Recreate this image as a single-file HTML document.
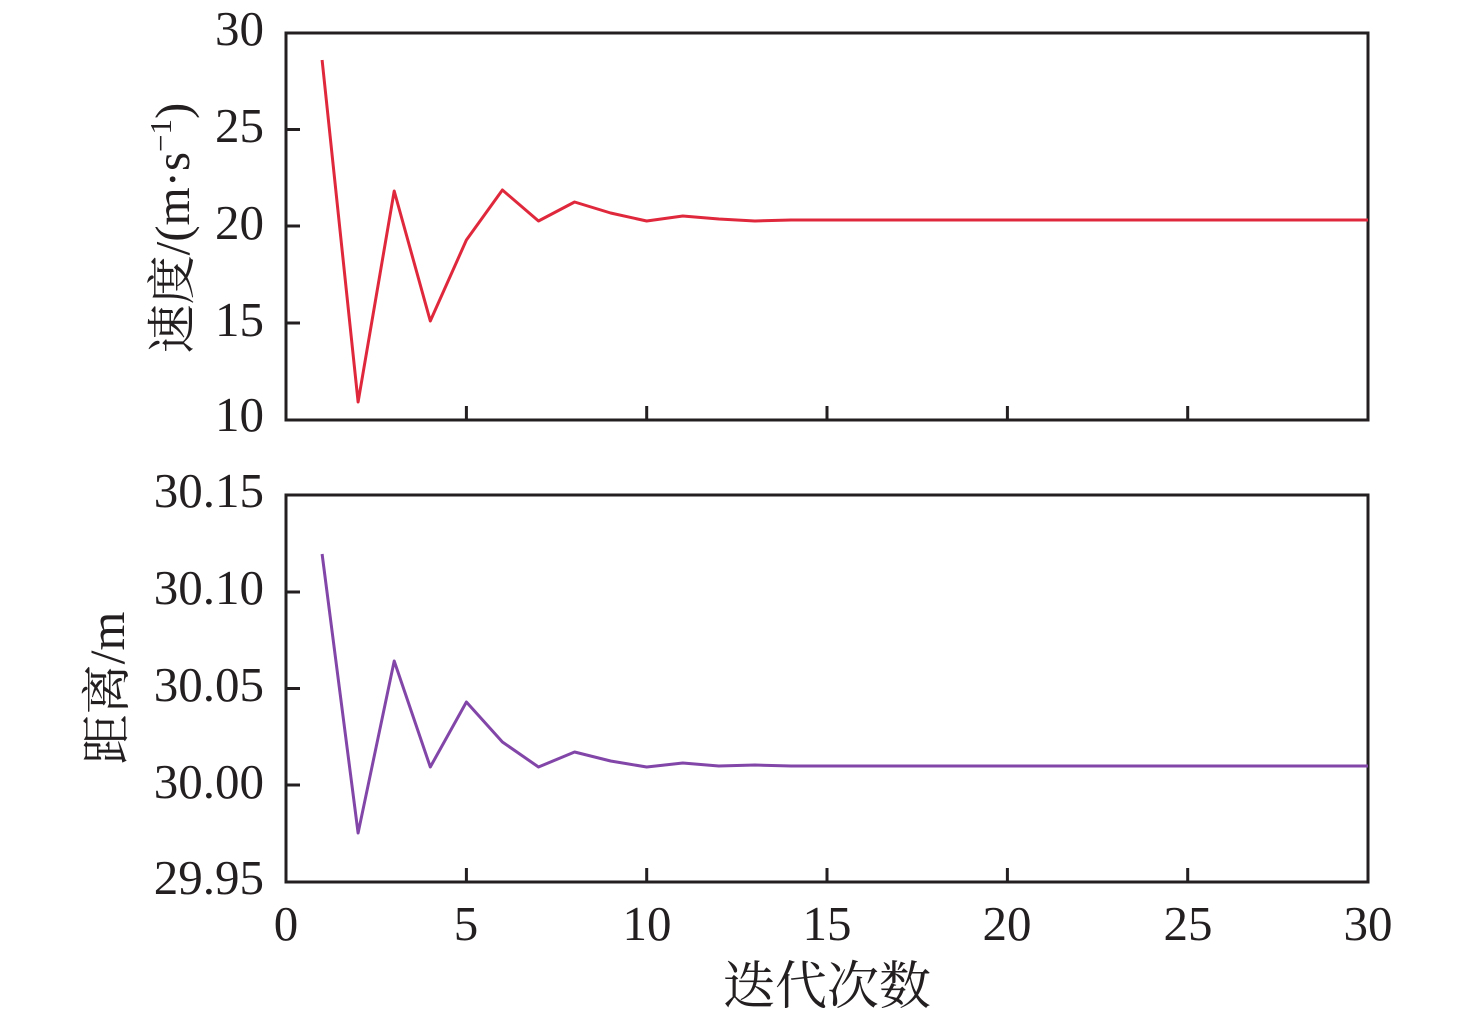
<!DOCTYPE html>
<html><head><meta charset="utf-8"><style>body{margin:0;background:#fff}</style></head><body>
<svg width="1476" height="1020" xmlns="http://www.w3.org/2000/svg" font-family="'Liberation Serif','Noto Serif CJK SC',serif" font-size="49" fill="#231f20">
<g stroke="#231f20" stroke-width="3" fill="none">
<rect x="286" y="33" width="1082" height="387"/>
<rect x="286" y="495" width="1082" height="387"/>
<path d="M466.4 420v-14M646.7 420v-14M827 420v-14M1007.4 420v-14M1187.7 420v-14
M466.4 882v-14M646.7 882v-14M827 882v-14M1007.4 882v-14M1187.7 882v-14
M286 129.5h14M286 226h14M286 323h14
M286 592h14M286 688.5h14M286 785h14"/>
</g>
<polyline fill="none" stroke="#e0283c" stroke-width="3" stroke-linejoin="round" points="322.1,60 358.1,402 394.2,191 430.3,321 466.4,240 502.4,190 538.5,221 574.6,202 610.6,213 646.7,221 682.8,216 718.8,219 754.9,221 791,220 1368,220"/>
<polyline fill="none" stroke="#8245a8" stroke-width="3" stroke-linejoin="round" points="322.1,554 358.1,833 394.2,661 430.3,767 466.4,702 502.4,742 538.5,767 574.6,752 610.6,761 646.7,767 682.8,763 718.8,766 754.9,765 791,766 1368,766"/>
<g text-anchor="end">
<text x="264" y="45">30</text><text x="264" y="142">25</text><text x="264" y="239">20</text><text x="264" y="336">15</text><text x="264" y="431">10</text>
<text x="264" y="507">30.15</text><text x="264" y="604">30.10</text><text x="264" y="701">30.05</text><text x="264" y="798">30.00</text><text x="264" y="894">29.95</text>
</g>
<g text-anchor="middle">
<text x="286" y="940">0</text><text x="466" y="940">5</text><text x="647" y="940">10</text><text x="827" y="940">15</text><text x="1007" y="940">20</text><text x="1188" y="940">25</text><text x="1368" y="940">30</text>
<text x="827" y="1004" font-size="52">迭代次数</text>
<text transform="translate(189,228) rotate(-90)" font-size="49">速度/(m·s<tspan dy="-18" font-size="31">−1</tspan><tspan dy="18">)</tspan></text>
<text transform="translate(124,688) rotate(-90)" font-size="50">距离/m</text>
</g>
</svg>
</body></html>
